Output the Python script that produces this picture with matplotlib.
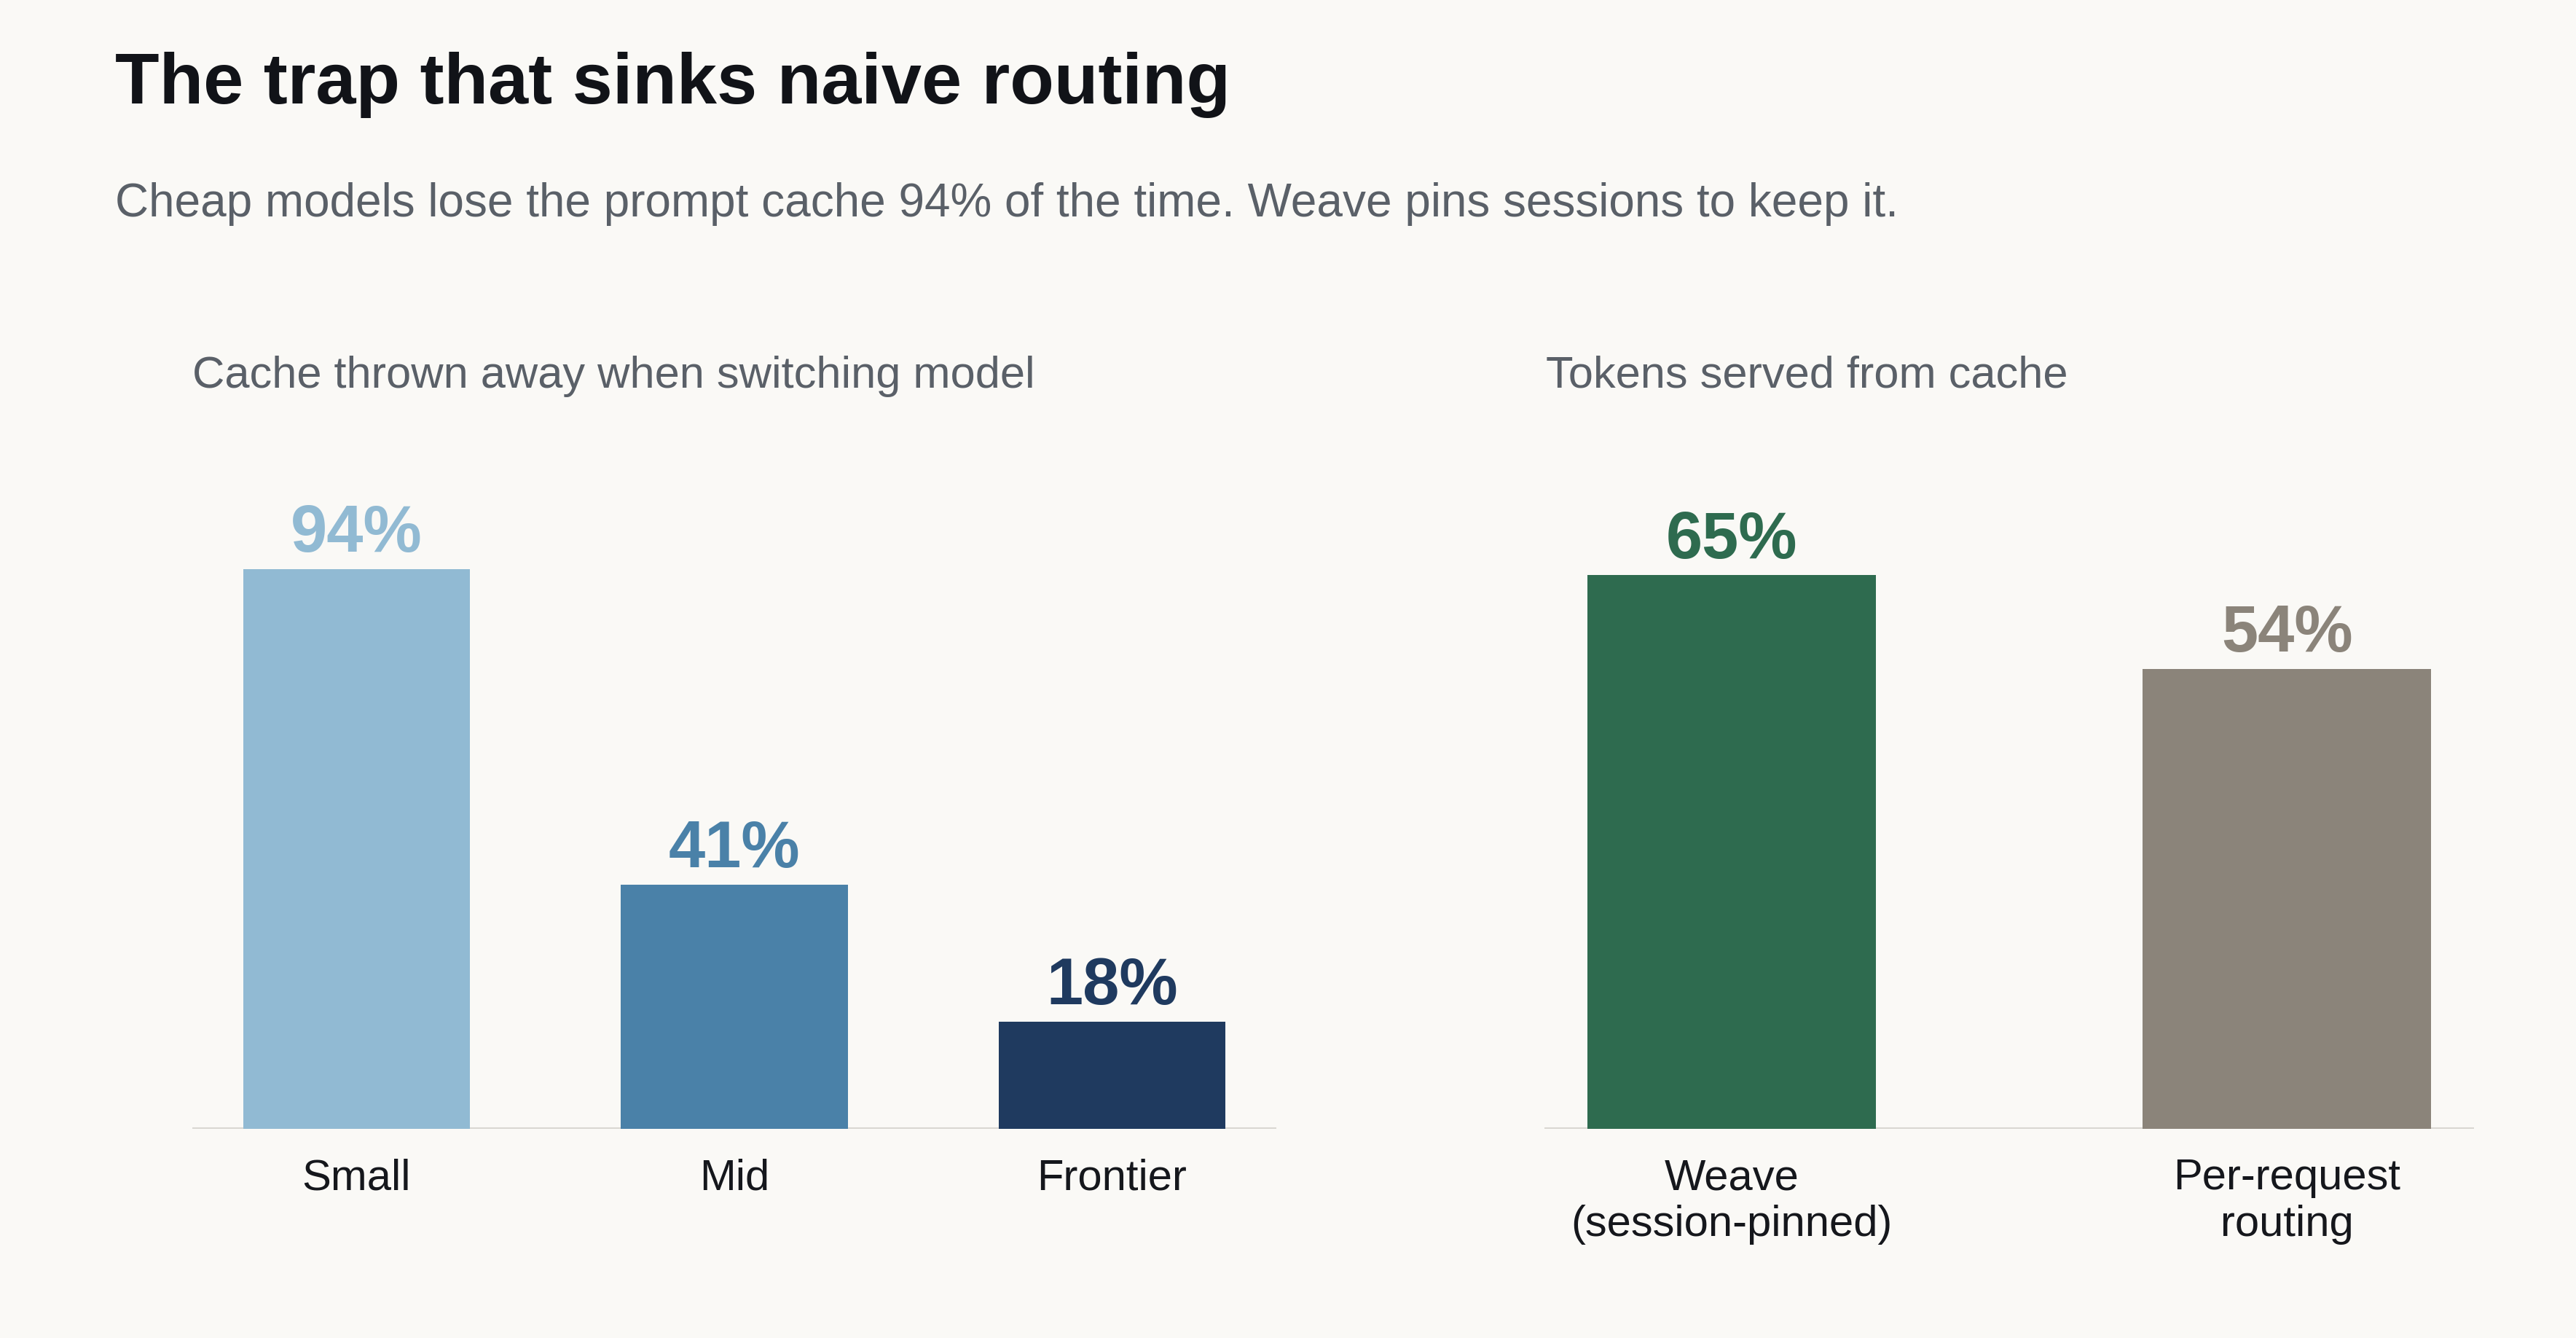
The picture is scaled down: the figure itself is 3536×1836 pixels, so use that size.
import matplotlib
matplotlib.use("Agg")
import matplotlib.pyplot as plt

# --- data ---
left_labels = ["Small", "Mid", "Frontier"]
left_values = [94, 41, 18]
left_colors = ["#91bad3", "#4a81a8", "#1f3a5f"]

right_labels = ["Weave\n(session-pinned)", "Per-request\nrouting"]
right_values = [65, 54]
right_colors = ["#2e6b4f", "#8b847a"]

BG = "#faf9f6"
plt.rcParams["font.family"] = ["Liberation Sans", "DejaVu Sans"]

W, H = 3536, 1836
fig = plt.figure(figsize=(W / 200, H / 200), dpi=200, facecolor=BG)


def px(x0, x1, y_base, h):
    # rect in figure fractions from pixel positions
    return [x0 / W, 1 - y_base / H, (x1 - x0) / W, h / H]


AX_H = 920
ax1 = fig.add_axes(px(264, 1752, 1549, AX_H))
ax2 = fig.add_axes(px(2120, 3396, 1549, AX_H))


def panel(ax, labels, values, colors, width, xlim, ylim):
    ax.set_facecolor(BG)
    xs = range(len(values))
    ax.bar(xs, values, width=width, color=colors, zorder=2)
    for x, v, c in zip(xs, values, colors):
        ax.annotate(f"{v}%", (x, v), xytext=(0, 8.5), textcoords="offset points",
                    ha="center", va="baseline", fontsize=32.5,
                    fontweight="bold", color=c)
    ax.axhline(0, color="#d9d7d2", lw=1.5, zorder=1)
    ax.set_xlim(*xlim)
    ax.set_ylim(*ylim)
    ax.set_xticks(list(xs))
    ax.set_xticklabels(labels, fontsize=21.5, color="#15171c", linespacing=1.2)
    ax.tick_params(axis="x", length=0, pad=14.5)
    ax.set_yticks([])
    for s in ax.spines.values():
        s.set_visible(False)


panel(ax1, left_labels, left_values, left_colors, 0.6, (-0.435, 2.435), (0, AX_H / 8.17))
panel(ax2, right_labels, right_values, right_colors, 0.52, (-0.337, 1.337), (0, AX_H / 11.69))

fig.text(158 / W, 1 - 141.7 / H, "The trap that sinks naive routing",
         fontsize=35.7, fontweight="bold", color="#111318", va="baseline")
fig.text(158 / W, 1 - 296.7 / H,
         "Cheap models lose the prompt cache 94% of the time. Weave pins sessions to keep it.",
         fontsize=23, color="#5a6068", va="baseline")
fig.text(264 / W, 1 - 531.7 / H, "Cache thrown away when switching model",
         fontsize=22.1, color="#5a6068", va="baseline")
fig.text(2122 / W, 1 - 531.7 / H, "Tokens served from cache",
         fontsize=22.1, color="#5a6068", va="baseline")

fig.savefig("out.png", dpi=200, facecolor=BG)
